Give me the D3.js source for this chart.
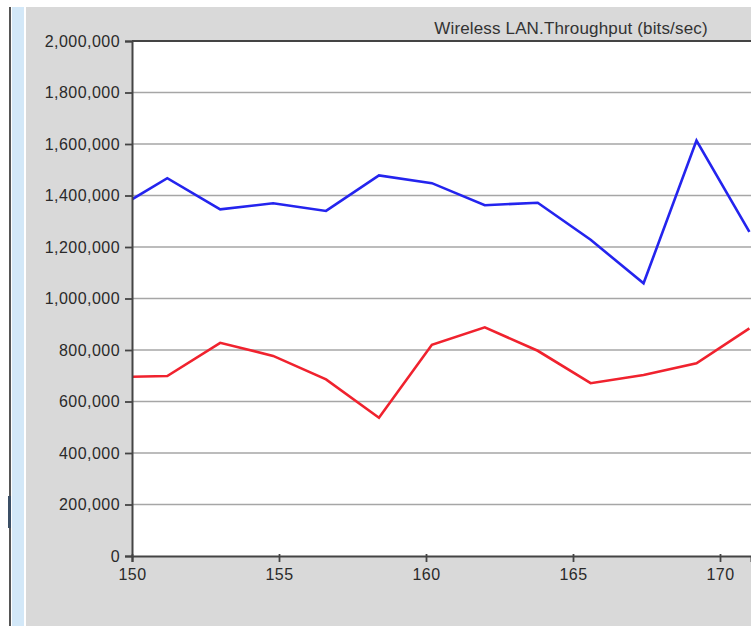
<!DOCTYPE html>
<html><head><meta charset="utf-8">
<script src="https://cdn.jsdelivr.net/npm/d3@7"></script>
<style>html,body{margin:0;padding:0;background:#fff;overflow:hidden}</style>
</head><body>
<svg id="c" width="751" height="626"></svg>
<script>
const title = "Wireless LAN.Throughput (bits/sec)";
const xValues = [150, 151.2, 153.0, 154.8, 156.6, 158.4, 160.2, 162.0, 163.8, 165.6, 167.4, 169.2, 171.0];
const blueValues = [1385000, 1467000, 1346000, 1370000, 1340000, 1478000, 1448000, 1362000, 1372000, 1228000, 1059000, 1613000, 1259000];
const redValues = [696000, 699000, 828000, 777000, 686000, 537000, 820000, 888000, 797000, 671000, 703000, 748000, 884000];
const xTicks = [150, 155, 160, 165, 170];
const yTicks = [0, 200000, 400000, 600000, 800000, 1000000, 1200000, 1400000, 1600000, 1800000, 2000000];

const svg = d3.select("#c");
const W = 751, H = 626;
const L = 132, R = 751, T = 41, B = 556;

// frame decorations
svg.append("rect").attr("x",0).attr("y",0).attr("width",W).attr("height",H).attr("fill","#ffffff");
svg.append("rect").attr("x",26).attr("y",7).attr("width",W-26).attr("height",H-7).attr("fill","#d9d9d9");
svg.append("rect").attr("x",12).attr("y",7).attr("width",12).attr("height",H-7).attr("fill","#d3e8f8");
svg.append("rect").attr("x",9).attr("y",7).attr("width",2).attr("height",H-7).attr("fill","#555");
svg.append("rect").attr("x",8).attr("y",496).attr("width",3).attr("height",32).attr("fill","#3b4f66");

const x = d3.scaleLinear().domain([150, 150 + (R - L) / 29.4]).range([L, R]);
const y = d3.scaleLinear().domain([0, 2000000]).range([B, T]);

svg.append("rect").attr("x",L).attr("y",T).attr("width",R-L).attr("height",B-T).attr("fill","#fff");

// gridlines
svg.append("g").selectAll("line").data(yTicks.filter(d => d > 0 && d < 2000000)).join("line")
  .attr("x1", L).attr("x2", R).attr("y1", d => y(d)).attr("y2", d => y(d))
  .attr("stroke", "#a6a6a6").attr("stroke-width", 1.6);

svg.append("clipPath").attr("id","pc").append("rect")
  .attr("x",L).attr("y",T).attr("width",R-L).attr("height",B-T);

const line = d3.line().x((d,i) => x(xValues[i])).y(d => y(d));
svg.append("path").datum(blueValues).attr("d", line).attr("fill","none")
  .attr("stroke","#2424ee").attr("stroke-width",2.6).attr("stroke-linejoin","miter").attr("clip-path","url(#pc)");
svg.append("path").datum(redValues).attr("d", line).attr("fill","none")
  .attr("stroke","#f0222e").attr("stroke-width",2.6).attr("stroke-linejoin","miter").attr("clip-path","url(#pc)");

// top border
svg.append("line").attr("x1",L).attr("x2",R).attr("y1",T).attr("y2",T).attr("stroke","#444").attr("stroke-width",1.8);

const font = "'Liberation Sans', Arial, sans-serif";
const yAxis = svg.append("g").attr("transform", `translate(${L},0)`)
  .call(d3.axisLeft(y).tickValues(yTicks).tickFormat(d3.format(",")).tickSize(7).tickPadding(5));
const xAxis = svg.append("g").attr("transform", `translate(0,${B})`)
  .call(d3.axisBottom(x).tickValues(xTicks).tickFormat(d3.format("d")).tickSize(6).tickPadding(7));
[yAxis, xAxis].forEach(g => {
  g.select(".domain").attr("stroke","#444").attr("stroke-width",2);
  g.selectAll(".tick line").attr("stroke","#444").attr("stroke-width",1.8);
  g.selectAll(".tick text").attr("fill","#2a2a2a").style("font-family",font)
    .style("font-size","16px").style("letter-spacing","0.45px");
});
xAxis.selectAll(".tick line").attr("y1",-2);

svg.append("text").attr("x",571).attr("y",34).attr("text-anchor","middle")
  .style("font-family",font).style("font-size","17px").style("letter-spacing","0.15px")
  .attr("fill","#333").text(title);
</script>
</body></html>
